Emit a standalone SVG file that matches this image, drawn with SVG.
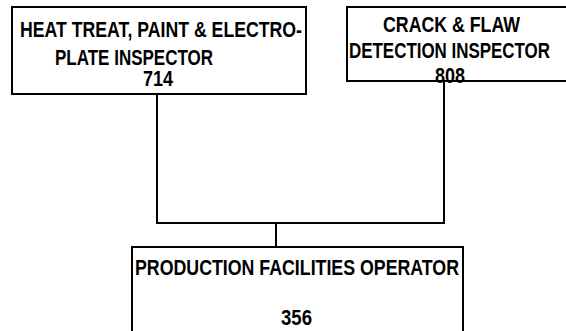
<svg xmlns="http://www.w3.org/2000/svg" width="566" height="331" viewBox="0 0 566 331">
<style>
.box{fill:#fff;stroke:#000;stroke-width:2}
.ln{fill:none;stroke:#000;stroke-width:2}
text{font-family:"Liberation Sans Narrow","Arial Narrow","Liberation Sans",Arial,sans-serif;font-weight:bold;font-size:22px;fill:#000}
</style>
<rect width="566" height="331" fill="#fff"/>
<g id="connectors">
<path class="ln" d="M157 94V223H444V81M276 223V247"/>
</g>
<g id="node-714">
<rect class="box" x="12" y="7" width="294" height="87"/>
<text x="20" y="37" textLength="282" lengthAdjust="spacingAndGlyphs">HEAT TREAT, PAINT &amp; ELECTRO-</text>
<text x="55" y="65" textLength="158" lengthAdjust="spacingAndGlyphs">PLATE INSPECTOR</text>
<text x="143" y="86" textLength="30" lengthAdjust="spacingAndGlyphs">714</text>
</g>
<g id="node-808">
<rect class="box" x="347" y="7" width="230" height="74"/>
<text x="383" y="32" textLength="137" lengthAdjust="spacingAndGlyphs">CRACK &amp; FLAW</text>
<text x="349" y="58" textLength="201" lengthAdjust="spacingAndGlyphs">DETECTION INSPECTOR</text>
<text x="435" y="83" textLength="30" lengthAdjust="spacingAndGlyphs">808</text>
</g>
<g id="node-356">
<rect class="box" x="132" y="247" width="331" height="100"/>
<text x="135" y="275" textLength="324" lengthAdjust="spacingAndGlyphs">PRODUCTION FACILITIES OPERATOR</text>
<text x="281" y="325" textLength="31" lengthAdjust="spacingAndGlyphs">356</text>
</g>
</svg>
